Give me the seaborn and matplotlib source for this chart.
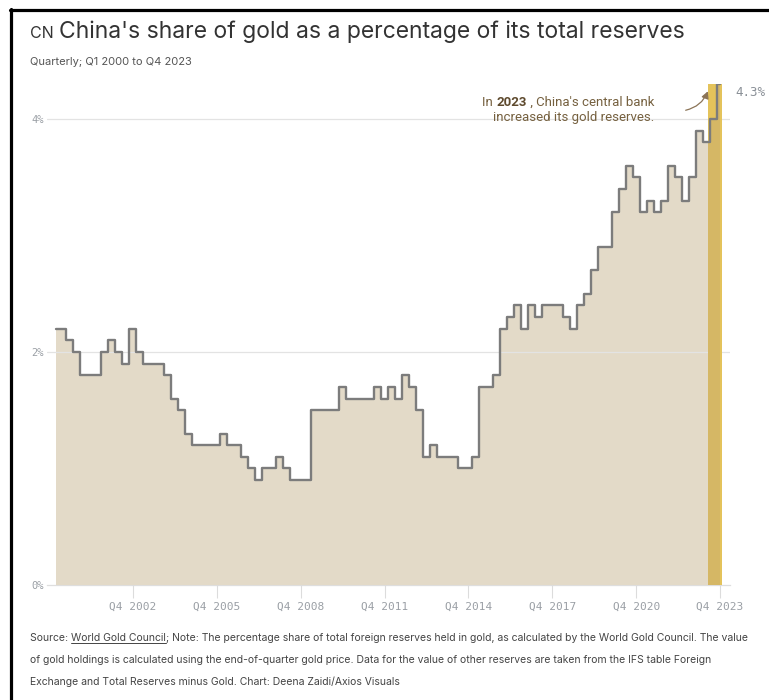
import matplotlib
matplotlib.use("Agg")
import matplotlib.pyplot as plt
from matplotlib.patches import Rectangle
from matplotlib.lines import Line2D
import numpy as np
import pandas as pd
import seaborn as sns

# ---------------- data ----------------
years = list(range(2000, 2024))
quarters = [f"Q{q} {y}" for y in years for q in range(1, 5)]
gold_share = [2.2, 2.2, 2.1, 2.0, 1.8, 1.8, 1.8, 2.0, 2.1, 2.0, 1.9, 2.2,
              2.0, 1.9, 1.9, 1.9, 1.8, 1.6, 1.5, 1.3, 1.2, 1.2, 1.2, 1.2,
              1.3, 1.2, 1.2, 1.1, 1.0, 0.9, 1.0, 1.0, 1.1, 1.0, 0.9, 0.9,
              0.9, 1.5, 1.5, 1.5, 1.5, 1.7, 1.6, 1.6, 1.6, 1.6, 1.7, 1.6,
              1.7, 1.6, 1.8, 1.7, 1.5, 1.1, 1.2, 1.1, 1.1, 1.1, 1.0, 1.0,
              1.1, 1.7, 1.7, 1.8, 2.2, 2.3, 2.4, 2.2, 2.4, 2.3, 2.4, 2.4,
              2.4, 2.3, 2.2, 2.4, 2.5, 2.7, 2.9, 2.9, 3.2, 3.4, 3.6, 3.5,
              3.2, 3.3, 3.2, 3.3, 3.6, 3.5, 3.3, 3.5, 3.9, 3.8, 4.0, 4.3]
x_tick_labels = ["Q4 2002", "Q4 2005", "Q4 2008", "Q4 2011",
                 "Q4 2014", "Q4 2017", "Q4 2020", "Q4 2023"]
y_ticks = [0, 2, 4]
y_tick_labels = ["0%", "2%", "4%"]
highlight_year = "2023"

title = "China's share of gold as a percentage of its total reserves"
subtitle = "Quarterly; Q1 2000 to Q4 2023"
footer_lines = [
    ("Source: ", "World Gold Council", "; Note: The percentage share of total foreign reserves held in gold, as calculated by the World Gold Council. The value"),
    "of gold holdings is calculated using the end-of-quarter gold price. Data for the value of other reserves are taken from the IFS table Foreign",
    "Exchange and Total Reserves minus Gold. Chart: Deena Zaidi/Axios Visuals",
]

df = pd.DataFrame({"quarter": quarters, "share": gold_share})
df["idx"] = np.arange(len(df))

# ---------------- style ----------------
sns.set_theme(style="white")
plt.rcParams["font.family"] = ["Roboto", "DejaVu Sans"]
head_font = ["Inter", "Roboto", "DejaVu Sans"]

W, H = 769, 700
fig = plt.figure(figsize=(W / 100, H / 100), dpi=100)
fig.patch.set_facecolor("white")

ax_left, ax_right, ax_top, ax_bottom = 47, 730, 84, 585
ax = fig.add_axes([ax_left / W, 1 - ax_bottom / H,
                   (ax_right - ax_left) / W, (ax_bottom - ax_top) / H])
ax.set_facecolor("none")

n = len(df)
ppu = 6.99  # pixel per quarter
x0 = -(56 - ax_left) / ppu
x1 = (n - 1) + (ax_right - 720) / ppu
ax.set_xlim(x0, x1)
ax.set_ylim(0, max(gold_share))

# gridlines
for yt in y_ticks[1:]:
    ax.axhline(yt, color="#e3e3e3", lw=0.9, zorder=1.5)

# area
ax.fill_between(df["idx"], 0, df["share"], step="mid",
                color="#e3dac8", lw=0, zorder=1)

# highlight bar for the last year
last = n - 1
rect = Rectangle((last - 1.75, 0), 2.0, gold_share[-1], facecolor="#e4c35b",
                 edgecolor="none", zorder=2, clip_on=False)
ax.add_patch(rect)
under = ax.fill_between(df["idx"], 0, df["share"], step="mid",
                        color="#d5b765", lw=0, zorder=3)
under.set_clip_path(rect)

# step line
sns.lineplot(data=df, x="idx", y="share", drawstyle="steps-mid",
             color="#7c7c7c", lw=1.7, zorder=4, ax=ax, legend=False)

# axes styling
for s in ["left", "top", "right"]:
    ax.spines[s].set_visible(False)
ax.spines["bottom"].set_color("#dedede")
ax.spines["bottom"].set_linewidth(0.9)
ax.spines["bottom"].set_zorder(0.5)

ax.set_xticks([quarters.index(l) for l in x_tick_labels])
ax.set_xticklabels(x_tick_labels, family="DejaVu Sans Mono", fontsize=8,
                   color="#9a9fa5")
ax.tick_params(axis="x", length=9.4, width=0.8, color="#dcdcdc", pad=2.5,
               bottom=True)
ax.set_yticks(y_ticks)
ax.set_yticklabels(y_tick_labels, family="DejaVu Sans Mono", fontsize=7.5,
                   color="#9a9fa5")
ax.tick_params(axis="y", length=0, pad=2)
ax.set_xlabel("")
ax.set_ylabel("")

# last value label
ax.annotate(f"{gold_share[-1]:.1f}%", xy=(last, gold_share[-1]),
            xytext=(11, -6), textcoords="offset points",
            family="DejaVu Sans Mono", fontsize=9, color="#8a9097",
            ha="left", va="center", annotation_clip=False)

# arrow
ax.annotate("", xy=(last - 1.6, gold_share[-1] - 0.04),
            xytext=(last - 5.3, 4.07),
            arrowprops=dict(arrowstyle="-|>,head_length=0.35,head_width=0.18",
                            color="#8b7457", lw=0.9,
                            connectionstyle="arc3,rad=0.3"),
            annotation_clip=False)

renderer = fig.canvas.get_renderer()

def fx(px):
    return px / W

def fy(py):
    return 1 - py / H

# annotation text
ann_color = "#75603f"
ann_fs = 9.5
t3 = fig.text(fx(654), fy(106), " , China's central bank", ha="right",
              va="baseline", fontsize=ann_fs, color=ann_color)
bb = t3.get_window_extent(renderer)
t2 = fig.text(bb.x0 / W, fy(106), highlight_year, ha="right", va="baseline",
              fontsize=ann_fs, color="#5e4a2e", weight="bold")
bb2 = t2.get_window_extent(renderer)
fig.text(bb2.x0 / W, fy(106), "In ", ha="right", va="baseline",
         fontsize=ann_fs, color=ann_color)
fig.text(fx(654), fy(121), "increased its gold reserves.", ha="right",
         va="baseline", fontsize=ann_fs, color=ann_color)

# title
tcn = fig.text(fx(30), fy(38), "CN", fontsize=11.5, color="#333333",
               va="baseline", ha="left", family=head_font)
bbc = tcn.get_window_extent(renderer)
fig.text((bbc.x1 + 5) / W, fy(38), title, fontsize=16.5, color="#333333",
         va="baseline", ha="left", family=head_font)
fig.text(fx(30), fy(65), subtitle, fontsize=8, color="#555555",
         va="baseline", ha="left", family=head_font)

# footer
foot_fs = 7.5
foot_color = "#444444"
p1, p2, p3 = footer_lines[0]
f1 = fig.text(fx(30), fy(641), p1, fontsize=foot_fs, color=foot_color,
              va="baseline", ha="left", family=head_font)
b1 = f1.get_window_extent(renderer)
f2 = fig.text(b1.x1 / W, fy(641), p2, fontsize=foot_fs, color=foot_color,
              va="baseline", ha="left", family=head_font)
b2 = f2.get_window_extent(renderer)
fig.add_artist(Line2D([b2.x0 / W, b2.x1 / W], [fy(643), fy(643)],
                      color=foot_color, lw=0.7))
fig.text(b2.x1 / W, fy(641), p3, fontsize=foot_fs, color=foot_color,
         va="baseline", ha="left", family=head_font)
fig.text(fx(30), fy(663), footer_lines[1], fontsize=foot_fs,
         color=foot_color, va="baseline", ha="left", family=head_font)
fig.text(fx(30), fy(685), footer_lines[2], fontsize=foot_fs,
         color=foot_color, va="baseline", ha="left", family=head_font)

# frame
fig.add_artist(Line2D([fx(10), 1.0], [fy(10), fy(10)], color="black", lw=2.3))
fig.add_artist(Line2D([fx(11), fx(11)], [fy(9), 0.0], color="black", lw=2.3))

fig.savefig("out.png", dpi=100, facecolor="white")
